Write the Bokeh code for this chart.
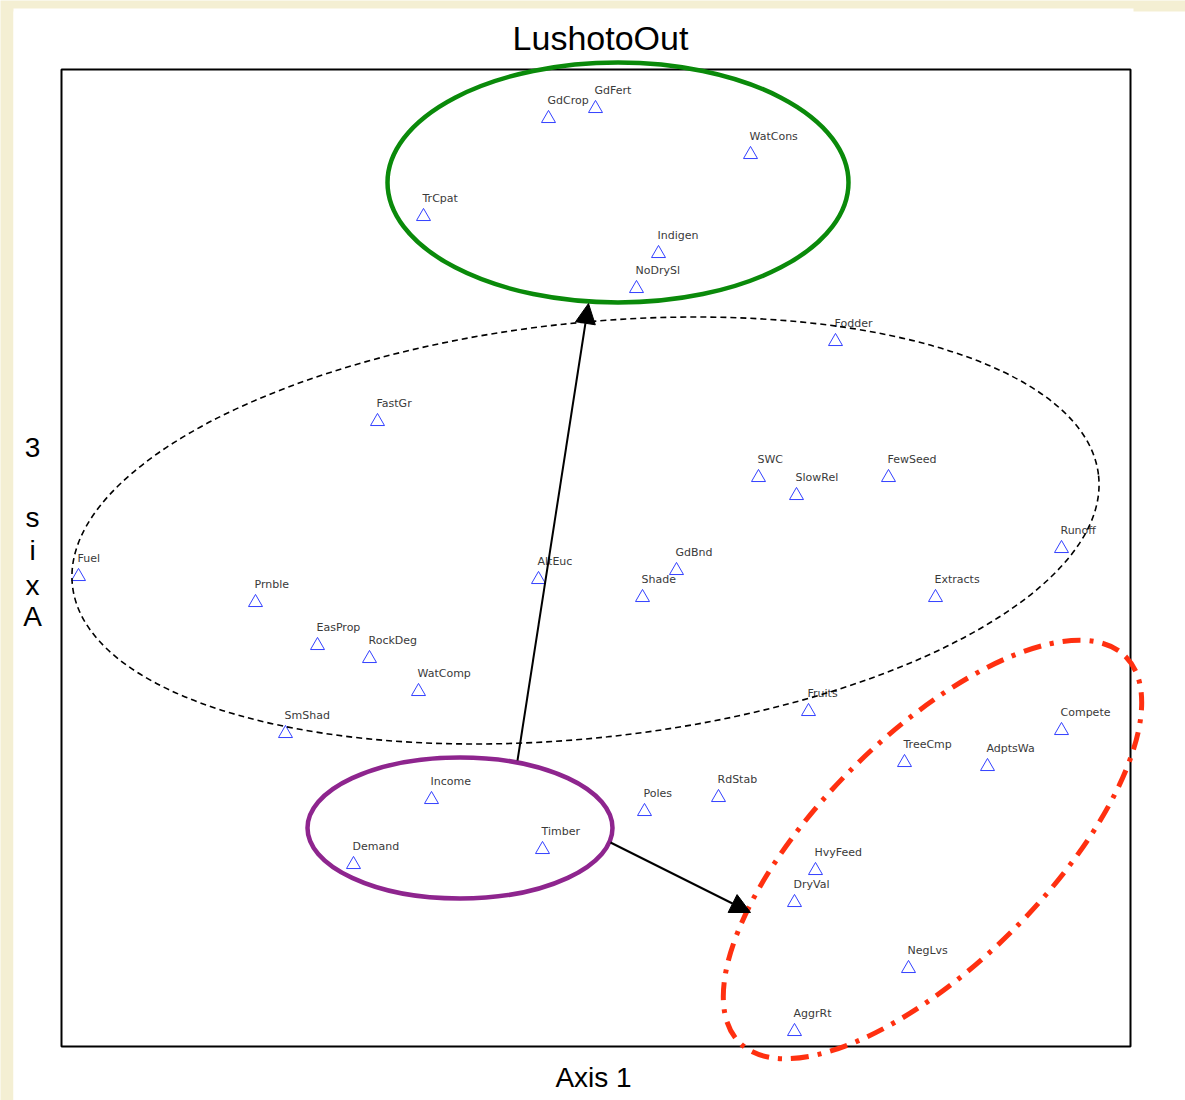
import math
from bokeh.plotting import figure
from bokeh.models import Range1d, ColumnDataSource, Arrow, NormalHead
from bokeh.core.properties import value
from bokeh.embed import file_html
from bokeh.resources import INLINE

# Ordination scores (axis 1 vs axis 3) for each attribute
names = ["GdCrop", "GdFert", "WatCons", "TrCpat", "Indigen", "NoDrySl", "Fodder",
         "FastGr", "SWC", "FewSeed", "SlowRel", "Runoff", "Fuel", "AltEuc", "GdBnd",
         "Prnble", "Shade", "Extracts", "EasProp", "RockDeg", "WatComp", "SmShad",
         "Fruits", "Compete", "TreeCmp", "AdptsWa", "RdStab", "Income", "Poles",
         "Timber", "Demand", "HvyFeed", "DryVal", "NegLvs", "AggrRt"]
axis1 = [48.7, 53.4, 68.9, 36.2, 59.7, 57.5, 77.4,
         31.6, 69.7, 82.7, 73.5, 100.0, 1.7, 47.7, 61.5,
         19.4, 58.1, 87.4, 25.6, 30.8, 35.7, 22.4,
         74.7, 100.0, 84.3, 92.6, 65.7, 37.0, 58.3,
         48.1, 29.2, 75.4, 73.3, 84.7, 73.3]
axis3 = [92.8, 93.8, 89.2, 83.0, 79.3, 75.8, 70.5,
         62.5, 56.9, 56.9, 55.1, 49.8, 47.0, 46.7, 47.6,
         44.4, 44.9, 44.9, 40.1, 38.8, 35.5, 31.3,
         33.5, 31.6, 28.4, 28.0, 24.9, 24.7, 23.5,
         19.7, 18.2, 17.6, 14.4, 7.8, 1.5]

# Group outlines: centre x, centre y, width, height, angle (deg)
groups = {
    "out":     (55.65, 86.4, 46.1, 24.0, 0.0),
    "middle":  (52.4, 51.6, 103.2, 41.5, 6.1),
    "drivers": (39.85, 21.85, 30.5, 14.1, 0.0),
    "adapt":   (87.1, 19.7, 54.6, 22.8, 45.0),
}

# Shifts between groups (from -> to)
shifts = [((45.6, 28.6), (52.7, 74.3)),
          ((54.9, 20.4), (68.9, 13.4))]

# Plot box extent in score units
X_MAX, Y_MAX = 106.9, 97.7

W, H = 1185, 1100
p = figure(width=W, height=H, output_backend="svg", toolbar_location=None,
           x_range=Range1d(-6.1, 112.4), y_range=Range1d(-5.4, 104.6),
           x_axis_type=None, y_axis_type=None, min_border=0)
p.grid.visible = False
p.outline_line_color = None
cream = "#f4efd3"
p.background_fill_color = cream
p.border_fill_color = cream

# White page (two overlapping panels)
p.quad(left=[-4.8, -4.8], right=[112.6, 107.2], top=[103.5, 103.8], bottom=[-5.6, -5.6],
       fill_color="white", line_color=None)

# Plot box
p.quad(left=[0], right=[X_MAX], bottom=[0], top=[Y_MAX], fill_color=None,
       line_color="black", line_width=2)

src = ColumnDataSource(dict(x=axis1, y=axis3, name=names))
p.scatter("x", "y", source=src, marker="triangle", size=14, fill_color=None,
          line_color="#3340ff", line_width=1)
p.text("x", "y", text="name", source=src, x_offset=-1, y_offset=-18,
       text_font=value("DejaVu Sans"), text_font_size="11px", text_color="#3a3a3a",
       text_baseline="middle", text_align="left")

styles = {
    "out": dict(line_color="#0a8a0a", line_width=4.5),
    "middle": dict(line_color="black", line_width=1.6, line_dash="6 4"),
    "drivers": dict(line_color="#8e258e", line_width=4.5),
    "adapt": dict(line_color="#ff3010", line_width=5, line_dash="18 9 4 9"),
}
for key, (cx, cy, w, h, ang) in groups.items():
    p.ellipse(x=[cx], y=[cy], width=[w], height=[h], angle=[math.radians(ang)],
              fill_color=None, **styles[key])

for (x0, y0), (x1, y1) in shifts:
    p.add_layout(Arrow(x_start=x0, y_start=y0, x_end=x1, y_end=y1,
                       line_color="black", line_width=2,
                       end=NormalHead(size=20, fill_color="black", line_color="black")))

# Titles
p.text(x=[53.9], y=[100.9], text=["LushotoOut"], text_font=value("Liberation Sans"),
       text_font_size="34px", text_color="black", text_align="center",
       text_baseline="middle")
p.text(x=[53.2], y=[-3.1], text=["Axis 1"], text_font=value("Liberation Sans"),
       text_font_size="28px", text_color="black", text_align="center",
       text_baseline="middle")
ylab_chars = ["3", "s", "i", "x", "A"]
ylab_y = [59.9, 52.9, 49.6, 46.1, 43.0]
p.text(x=[-2.9] * len(ylab_chars), y=ylab_y, text=ylab_chars,
       text_font=value("Liberation Sans"), text_font_size="28px", text_color="black",
       text_align="center", text_baseline="middle")

open("out.html", "w").write(file_html(p, INLINE))
